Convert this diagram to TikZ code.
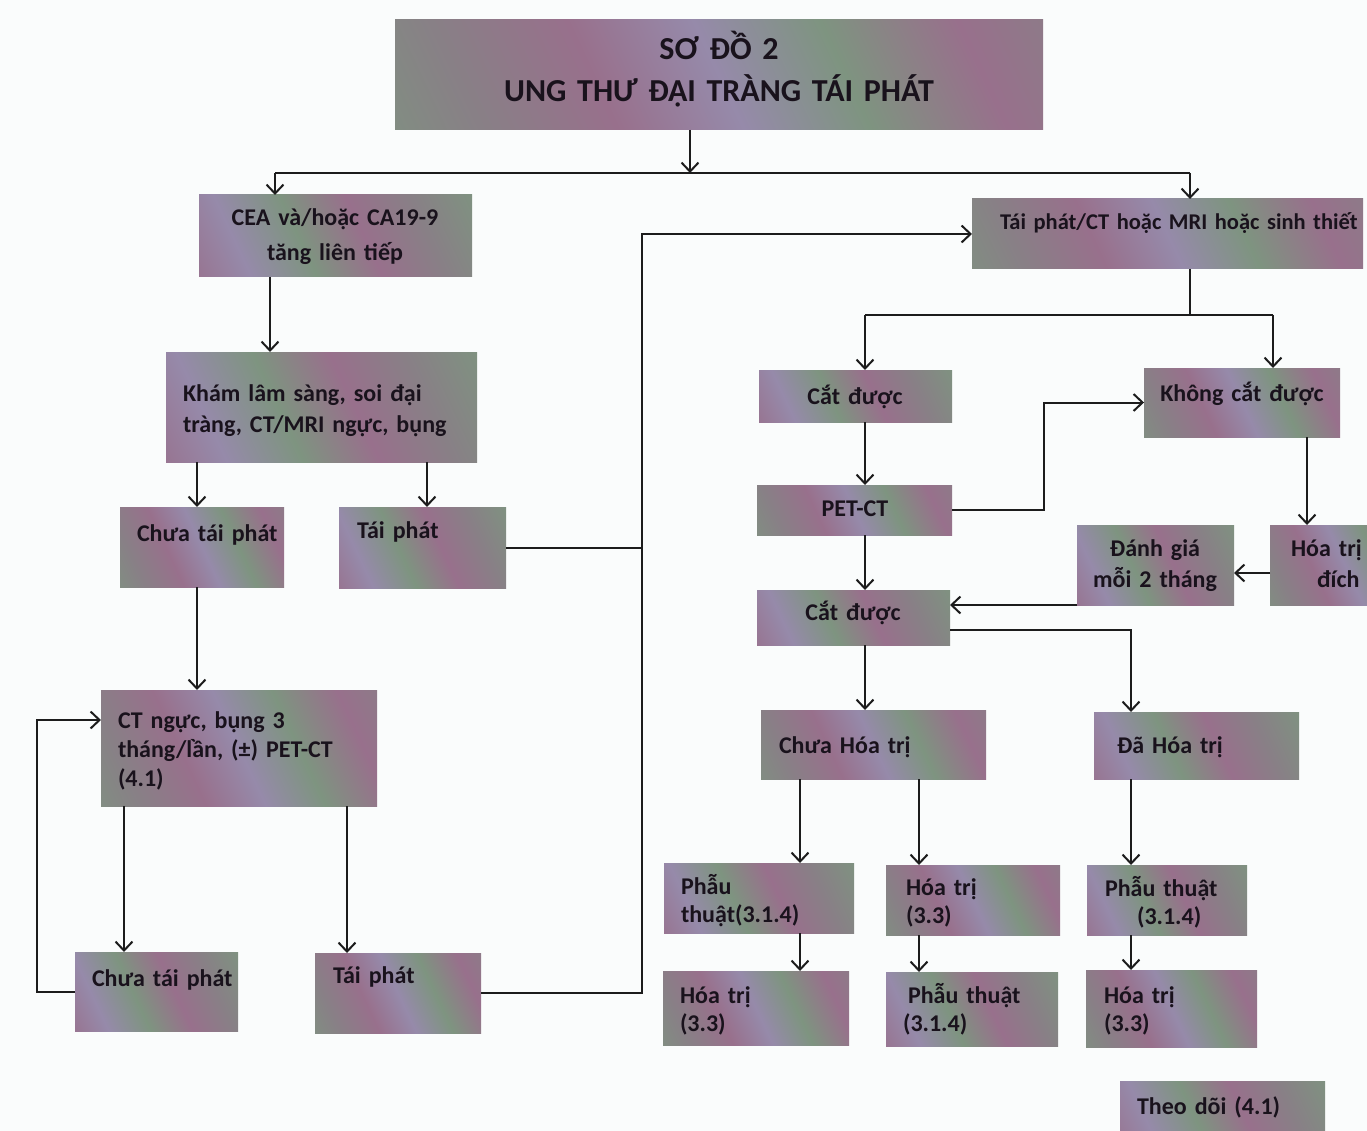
\documentclass[tikz,border=0pt]{standalone}
\usepackage{fontspec}
\setmainfont{Carlito}[WordSpace=0.75]
\usetikzlibrary{arrows.meta}
\definecolor{bgc}{RGB}{250,252,252}
\definecolor{mauve}{RGB}{152,112,140}
\definecolor{sage}{RGB}{126,148,128}
\definecolor{lav}{RGB}{150,138,170}
\definecolor{greyc}{RGB}{136,128,134}
\definecolor{linec}{RGB}{28,28,28}
\definecolor{txtc}{RGB}{25,18,28}
\pgfdeclarehorizontalshading{texA}{100bp}{color(0bp)=(mauve); color(12bp)=(sage); color(25bp)=(greyc); color(38bp)=(mauve); color(50bp)=(lav); color(62bp)=(sage); color(75bp)=(mauve); color(88bp)=(greyc); color(100bp)=(sage)}
\pgfdeclarehorizontalshading{texB}{100bp}{color(0bp)=(sage); color(14bp)=(mauve); color(28bp)=(lav); color(42bp)=(sage); color(56bp)=(mauve); color(70bp)=(greyc); color(85bp)=(sage); color(100bp)=(mauve)}
\newcommand{\bx}[6]{\node[box=#6, anchor=north west, minimum width={#4-#2}, minimum height={#5-#3}] (#1) at (#2,#3) {};}
\tikzset{
  box/.style={shading=#1, shading angle=25, inner sep=0pt, outer sep=0pt, draw=none},
  tl/.style={font=\fontsize{24}{28}\selectfont\bfseries, text=txtc, inner sep=0pt, outer sep=0pt, text width=#1, align=left, anchor=base west},
  tc/.style={font=\fontsize{24}{28}\selectfont\bfseries, text=txtc, inner sep=0pt, outer sep=0pt, text width=#1, align=center, anchor=base},
  ln/.style={draw=linec, line width=2pt},
  arr/.style={ln, -{Straight Barb[length=9pt,width=17pt]}},
}
\begin{document}
\begin{tikzpicture}[x=1pt,y=-1pt]
\useasboundingbox (0,0) rectangle (1367,1131);
\clip (0,0) rectangle (1367,1131);
\fill[bgc] (0,0) rectangle (1367,1131);
% boxes
\bx{title}{395}{20}{1043}{130}{texA}
\bx{cea}{199}{195}{472}{277}{texB}
\bx{tp1}{972}{199}{1363}{269}{texA}
\bx{kham}{166}{352}{477}{462}{texB}
\bx{chua1}{120}{507}{284}{587}{texA}
\bx{tai1}{339}{507}{506}{588}{texB}
\bx{ct}{101}{690}{377}{806}{texA}
\bx{chua2}{75}{952}{238}{1031}{texB}
\bx{tai2}{315}{953}{481}{1033}{texA}
\bx{cat1}{759}{370}{952}{422}{texB}
\bx{khong}{1144}{368}{1340}{437}{texA}
\bx{pet}{757}{485}{952}{535}{texA}
\bx{danh}{1077}{525}{1234}{605}{texB}
\bx{hd}{1270}{525}{1420}{605}{texA}
\bx{cat2}{757}{590}{950}{645}{texB}
\bx{chuaht}{761}{710}{986}{779}{texA}
\bx{daht}{1094}{712}{1299}{779}{texB}
\bx{pt1}{664}{863}{854}{933}{texB}
\bx{ht1}{886}{865}{1060}{935}{texA}
\bx{pt3}{1087}{865}{1247}{935}{texB}
\bx{ht2}{663}{971}{849}{1045}{texA}
\bx{pt2}{886}{972}{1058}{1046}{texB}
\bx{ht3}{1086}{970}{1257}{1047}{texA}
\bx{theodoi}{1120}{1081}{1325}{1150}{texB}
% texts
\node[tc=640, font=\fontsize{32}{42}\selectfont\bfseries] (tTitle) at (719,60) {SƠ ĐỒ 2\\UNG THƯ ĐẠI TRÀNG TÁI PHÁT};
\node[tc=265] (tCea) at (335,226) {CEA và/hoặc CA19-9\\[7pt]tăng liên tiếp};
\node[tl=362, font=\fontsize{22.5}{28}\selectfont\bfseries] (tTp1) at (1000,230) {Tái phát/CT hoặc MRI hoặc sinh thiết};
\node[tl=295] (tKham) at (183,401) {Khám lâm sàng, soi đại\\[3pt]tràng, CT/MRI ngực, bụng};
\node[tl=160] (tChua1) at (137,541) {Chưa tái phát};
\node[tl=140] (tTai1) at (357,538) {Tái phát};
\node[tl=255] (tCt) at (118,728) {CT ngực, bụng 3\\[1pt]tháng/lần, (±) PET-CT\\[1pt](4.1)};
\node[tl=160] (tChua2) at (92,986) {Chưa tái phát};
\node[tl=140] (tTai2) at (333,983) {Tái phát};
\node[tc=180] (tCat1) at (855,404) {Cắt được};
\node[tc=190] (tKhong) at (1242,401) {Không cắt được};
\node[tc=180] (tPet) at (855,516) {PET-CT};
\node[tc=150] (tDanh) at (1155,556) {Đánh giá\\[3pt]mỗi 2 tháng};
\node[tl=90] (tHd) at (1291,556) {Hóa trị\\[3pt]\hspace*{26pt}đích};
\node[tc=180] (tCat2) at (853,620) {Cắt được};
\node[tl=200] (tChuaht) at (779,753) {Chưa Hóa trị};
\node[tl=170] (tDaht) at (1117,753) {Đã Hóa trị};
\node[tl=170] (tPt1) at (681,894) {Phẫu\\thuật(3.1.4)};
\node[tl=150] (tHt1) at (906,895) {Hóa trị\\(3.3)};
\node[tl=140] (tPt3) at (1105,896) {Phẫu thuật\\\hspace*{32pt}(3.1.4)};
\node[tl=160] (tHt2) at (680,1003) {Hóa trị\\(3.3)};
\node[tl=150] (tPt2) at (908,1003) {Phẫu thuật\\\hspace*{-5pt}(3.1.4)};
\node[tl=150] (tHt3) at (1104,1003) {Hóa trị\\(3.3)};
\node[tl=180] (tTheo) at (1137,1114) {Theo dõi (4.1)};
% guide coordinates
\coordinate (hC) at (690,173);
\coordinate (hL) at (275,173);
\coordinate (hR) at (1190,173);
\coordinate (h2) at (0,315);
\coordinate (v270) at (270,0);
\coordinate (v197) at (197,0);
\coordinate (v427) at (427,0);
\coordinate (v124) at (124,0);
\coordinate (v347) at (347,0);
\coordinate (bus) at (642,0);
\coordinate (lp) at (37,720);
\coordinate (v865) at (865,0);
\coordinate (v1190) at (1190,0);
\coordinate (v1273) at (1273,0);
\coordinate (v1044) at (1044,0);
\coordinate (v1307) at (1307,0);
\coordinate (v1131) at (1131,0);
\coordinate (v800) at (800,0);
\coordinate (v919) at (919,0);
% connectors
\draw[arr] (title.south -| hC) -- (hC);
\draw[ln] (hL) -- (hR);
\draw[arr] (hL) -- (hL |- cea.north);
\draw[arr] (hR) -- (hR |- tp1.north);
\draw[arr] (v270 |- cea.south) -- (v270 |- kham.north);
\draw[arr] (v197 |- kham.south) -- (v197 |- chua1.north);
\draw[arr] (v427 |- kham.south) -- (v427 |- tai1.north);
\draw[arr] (v197 |- chua1.south) -- (v197 |- ct.north);
\draw[arr] (v124 |- ct.south) -- (v124 |- chua2.north);
\draw[arr] (v347 |- ct.south) -- (v347 |- tai2.north);
\draw[arr] (chua2.west) -| (lp) -- (lp -| ct.west);
\draw[ln] (tai1.east) -- (tai1.east -| bus);
\draw[arr] (tai2.east) -| (bus |- tp1.west) -- (tp1.west);
\draw[ln] (v1190 |- tp1.south) -- (v1190 |- h2);
\draw[ln] (v865 |- h2) -- (v1273 |- h2);
\draw[arr] (v865 |- h2) -- (v865 |- cat1.north);
\draw[arr] (v1273 |- h2) -- (v1273 |- khong.north);
\draw[arr] (v865 |- cat1.south) -- (v865 |- pet.north);
\draw[arr] (pet.east) -| (v1044 |- khong.west) -- (khong.west);
\draw[arr] (v1307 |- khong.south) -- (v1307 |- hd.north);
\draw[arr] ([yshift=-8pt]hd.west) -- ([yshift=-8pt]danh.east);
\draw[arr] (danh.south west) -- (danh.south west -| cat2.east);
\draw[arr] (v865 |- pet.south) -- (v865 |- cat2.north);
\draw[arr] ([yshift=-12pt]cat2.east) -| (v1131 |- daht.north);
\draw[arr] (v865 |- cat2.south) -- (v865 |- chuaht.north);
\draw[arr] (v800 |- chuaht.south) -- (v800 |- pt1.north);
\draw[arr] (v919 |- chuaht.south) -- (v919 |- ht1.north);
\draw[arr] (v1131 |- daht.south) -- (v1131 |- pt3.north);
\draw[arr] (v800 |- pt1.south) -- (v800 |- ht2.north);
\draw[arr] (v919 |- ht1.south) -- (v919 |- pt2.north);
\draw[arr] (v1131 |- pt3.south) -- (v1131 |- ht3.north);
\end{tikzpicture}
\end{document}
